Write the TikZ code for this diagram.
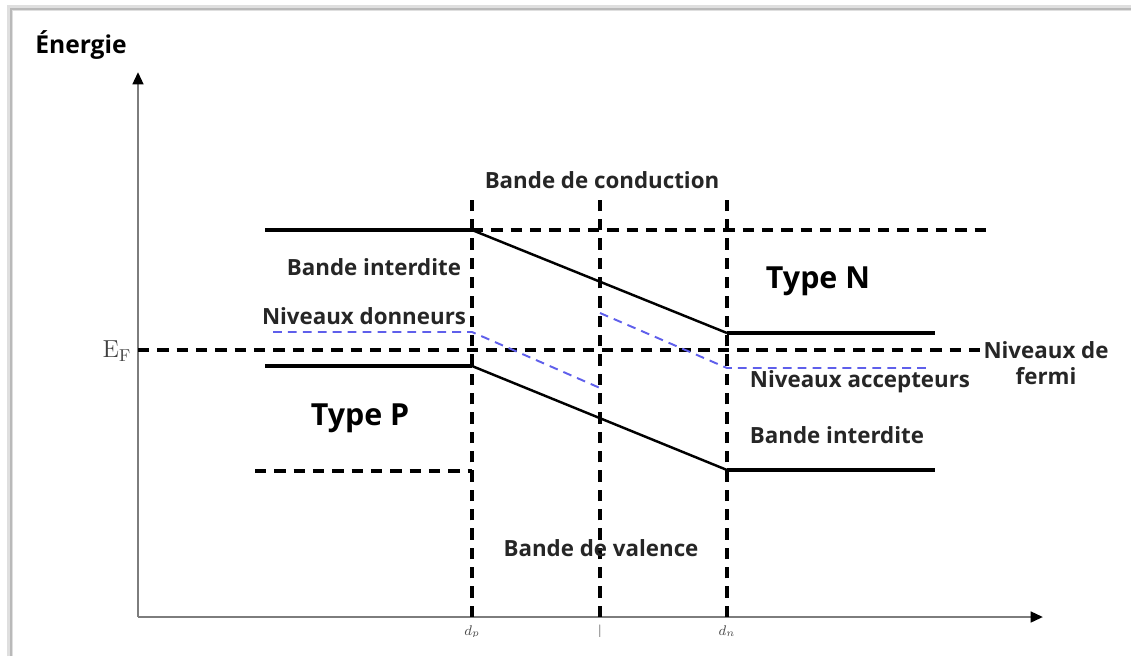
\documentclass[tikz,border=0pt]{standalone}
\usepackage{fontspec}
\setsansfont{Open Sans}
\usetikzlibrary{arrows.meta}
\definecolor{levelblue}{RGB}{95,95,235}
\definecolor{axisgray}{RGB}{125,125,125}

\begin{document}
\begin{tikzpicture}[x=0.02cm, y=-0.02cm,
    band/.style={line width=2.4pt},
    slope/.style={line width=1.4pt},
    guide/.style={line width=2pt, dash pattern=on 6.5pt off 4.5pt},
    level/.style={levelblue, line width=1.1pt, dash pattern=on 5pt off 3.5pt},
    axis/.style={axisgray, line width=1.5pt, -{Triangle[black, length=7pt, width=6pt]}},
    lbl/.style={font=\sffamily\bfseries\fontsize{12.7}{14.5}\selectfont, text=black!85, inner sep=1pt},
    big/.style={font=\sffamily\bfseries\fontsize{17.3}{19}\selectfont, inner sep=1pt},
    tiny/.style={font=\footnotesize, text=black!70, inner sep=0pt}]
    \useasboundingbox (0,0) rectangle (1131,656);
    % frame of the page (shadowed border)
    \draw[gray!25, line width=3pt] (10,656) -- (10,8) -- (1131,8);
    \draw[gray!55, line width=0.6pt] (11,656) -- (11,9) -- (1131,9);

    % key points
    \coordinate (O) at (138,617);
    \coordinate (ytop) at (138,72);
    \coordinate (xend) at (1043,617);
    \coordinate (dp) at (472,617);
    \coordinate (dm) at (600,617);
    \coordinate (dn) at (727,617);
    \coordinate (dpT) at (472,198);
    \coordinate (dmT) at (600,198);
    \coordinate (dnT) at (727,198);

    % axes
    \draw[axis] (O) -- (ytop);
    \draw[axis] (O) -- (xend);
    \node[font=\sffamily\bfseries\fontsize{14}{16}\selectfont, inner sep=1pt] (energie) at (81,45) {Énergie};

    % vertical guides
    \draw[guide] (dp) -- (dpT);
    \draw[guide] (dm) -- (dmT);
    \draw[guide] (dn) -- (dnT);

    % horizontal guides
    \coordinate (cTopL) at (472,230);
    \coordinate (cTopR) at (990,230);
    \coordinate (efL) at (138,350);
    \coordinate (efR) at (985,350);
    \coordinate (vBotL) at (255,471);
    \coordinate (vBotR) at (472,471);
    \draw[guide] (cTopL) -- (cTopR);
    \draw[guide] (efL) -- (efR);
    \draw[guide] (vBotL) -- (vBotR);

    % conduction band edge
    \coordinate (cbP0) at (265,230);
    \coordinate (cbP1) at (472,230);
    \coordinate (cbN0) at (727,333);
    \coordinate (cbN1) at (935,333);
    \draw[band] (cbP0) -- (cbP1);
    \draw[slope] (cbP1) -- (cbN0);
    \draw[band] (cbN0) -- (cbN1);

    % valence band edge
    \coordinate (vbP0) at (265,366);
    \coordinate (vbP1) at (472,366);
    \coordinate (vbN0) at (727,470);
    \coordinate (vbN1) at (935,470);
    \draw[band] (vbP0) -- (vbP1);
    \draw[slope] (vbP1) -- (vbN0);
    \draw[band] (vbN0) -- (vbN1);

    % donor and acceptor levels
    \coordinate (don0) at (273,332);
    \coordinate (don1) at (472,332);
    \coordinate (don2) at (600,388);
    \coordinate (acc0) at (600,313);
    \coordinate (acc1) at (727,368);
    \coordinate (acc2) at (932,368);
    \draw[level] (don0) -- (don1) -- (don2);
    \draw[level] (acc0) -- (acc1) -- (acc2);

    % labels
    \node[font=\fontsize{14}{16}\selectfont, text=black!75, inner sep=0pt] (EF) at (117,351) {$\mathrm{E_F}$};
    \node[lbl] (conduction) at (602,180) {Bande de conduction};
    \node[lbl] (interditeP) at (374,267) {Bande interdite};
    \node[lbl] (donneurs) at (364,316) {Niveaux donneurs};
    \node[big] (typeN) at (818,281) {Type N};
    \node[big] (typeP) at (360,418) {Type P};
    \node[lbl, align=center] (fermi) at (1046,363) {Niveaux de\\fermi};
    \node[lbl] (accepteurs) at (860,382) {Niveaux accepteurs};
    \node[lbl] (interditeN) at (837,435) {Bande interdite};
    \node[lbl] (valence) at (601,548) {Bande de valence};

    % axis marks, cut at the page edge
    \begin{scope}
    \clip (400,622) rectangle (800,636);
    \node[tiny, anchor=north] (mp) at (dp |- 0,625) {$d_p$};
    \node[tiny, anchor=north] (mm) at (dm |- 0,625) {$|$};
    \node[tiny, anchor=north] (mn) at (dn |- 0,625) {$d_n$};
    \end{scope}
\end{tikzpicture}
\end{document}
